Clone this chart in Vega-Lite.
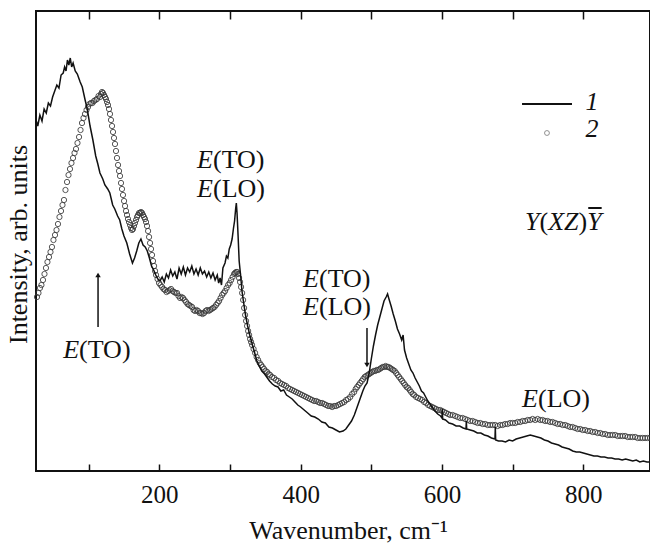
{
  "$schema": "https://vega.github.io/schema/vega-lite/v6.json",
  "width": 614,
  "height": 460,
  "autosize": {"type": "none"},
  "padding": {"left": 36, "top": 11, "right": 0, "bottom": 72},
  "background": "white",
  "config": {
    "font": "Liberation Serif",
    "view": {"stroke": "#111", "strokeWidth": 2},
    "axis": {"grid": false, "domain": false, "labelFont": "Liberation Serif", "titleFont": "Liberation Serif", "titleFontWeight": "normal", "labelColor": "#111", "titleColor": "#111", "tickColor": "#111"}
  },
  "datasets": {
    "s1": [
      {"x":25.5,"y":351},{"x":28,"y":345},{"x":31,"y":356},{"x":34,"y":350},{"x":37,"y":362},{"x":40,"y":358},{"x":43,"y":368},{"x":46,"y":365},{"x":49,"y":374},{"x":52,"y":380},{"x":55,"y":386},{"x":58,"y":383},{"x":61,"y":396},{"x":64,"y":398},{"x":66,"y":404},{"x":68,"y":400},{"x":70,"y":411},{"x":72,"y":406},{"x":74,"y":413},{"x":76,"y":404},{"x":78,"y":408},{"x":81,"y":400},{"x":84,"y":397},{"x":88,"y":389},{"x":91,"y":384},{"x":95,"y":371},{"x":98,"y":362},{"x":102,"y":345},{"x":106,"y":331},{"x":110,"y":315},{"x":113,"y":307},{"x":116,"y":298},{"x":120,"y":292},{"x":123,"y":286},{"x":127,"y":282},{"x":130,"y":278},{"x":134,"y":266},{"x":137,"y":262},{"x":141,"y":255},{"x":144,"y":251},{"x":147,"y":242},{"x":150,"y":235},{"x":154,"y":228},{"x":158,"y":217},{"x":162,"y":208},{"x":165,"y":213},{"x":168,"y":220},{"x":171,"y":228},{"x":174,"y":232},{"x":177,"y":226},{"x":180,"y":224},{"x":183,"y":220},{"x":186,"y":213},{"x":189,"y":205},{"x":192,"y":201},{"x":195,"y":196},{"x":198,"y":192},{"x":201,"y":190},{"x":204,"y":194},{"x":207,"y":189},{"x":210,"y":197},{"x":213,"y":193},{"x":216,"y":201},{"x":219,"y":195},{"x":222,"y":199},{"x":225,"y":192},{"x":228,"y":203},{"x":231,"y":197},{"x":234,"y":204},{"x":237,"y":196},{"x":240,"y":203},{"x":243,"y":199},{"x":246,"y":205},{"x":249,"y":197},{"x":252,"y":202},{"x":255,"y":196},{"x":258,"y":203},{"x":261,"y":197},{"x":264,"y":200},{"x":267,"y":194},{"x":270,"y":199},{"x":273,"y":193},{"x":276,"y":198},{"x":279,"y":191},{"x":282,"y":196},{"x":284,"y":188},{"x":286,"y":193},{"x":288,"y":186},{"x":290,"y":203},{"x":293,"y":208},{"x":295,"y":215},{"x":297,"y":213},{"x":299,"y":222},{"x":301,"y":226},{"x":303,"y":232},{"x":305,"y":243},{"x":306.5,"y":250},{"x":308,"y":262},{"x":309,"y":268},{"x":310,"y":258},{"x":311.5,"y":235},{"x":313,"y":210},{"x":315,"y":196},{"x":317,"y":180},{"x":319,"y":170},{"x":322,"y":156},{"x":325,"y":145},{"x":328,"y":136},{"x":331,"y":128},{"x":335,"y":118},{"x":338,"y":110},{"x":342,"y":104},{"x":345,"y":100},{"x":349,"y":97},{"x":352,"y":94},{"x":356,"y":90},{"x":360,"y":87},{"x":364,"y":85},{"x":368,"y":84},{"x":372,"y":80},{"x":376,"y":81},{"x":380,"y":76},{"x":384,"y":74},{"x":388,"y":72},{"x":392,"y":69},{"x":396,"y":66},{"x":400,"y":64},{"x":405,"y":61},{"x":410,"y":58},{"x":415,"y":55},{"x":420,"y":54},{"x":425,"y":52},{"x":430,"y":49},{"x":435,"y":48},{"x":440,"y":44},{"x":445,"y":43},{"x":450,"y":41},{"x":455,"y":39},{"x":460,"y":40},{"x":464,"y":42},{"x":468,"y":46},{"x":472,"y":50},{"x":476,"y":56},{"x":480,"y":64},{"x":484,"y":72},{"x":488,"y":80},{"x":491,"y":85},{"x":494,"y":88},{"x":497,"y":98},{"x":500,"y":112},{"x":503,"y":125},{"x":506,"y":136},{"x":509,"y":146},{"x":512,"y":154},{"x":515,"y":162},{"x":518,"y":170},{"x":521,"y":174},{"x":523,"y":177},{"x":525,"y":172},{"x":528,"y":165},{"x":531,"y":157},{"x":534,"y":150},{"x":537,"y":142},{"x":540,"y":137},{"x":543,"y":131},{"x":545,"y":136},{"x":547,"y":121},{"x":550,"y":113},{"x":553,"y":107},{"x":556,"y":101},{"x":559,"y":98},{"x":562,"y":93},{"x":565,"y":89},{"x":568,"y":85},{"x":571,"y":80},{"x":574,"y":78},{"x":577,"y":74},{"x":580,"y":70},{"x":583,"y":67},{"x":586,"y":64},{"x":590,"y":60},{"x":594,"y":57},{"x":598,"y":55},{"x":600,"y":53},{"x":600.5,"y":62},{"x":601,"y":52},{"x":605,"y":51},{"x":610,"y":48},{"x":615,"y":47},{"x":620,"y":45},{"x":625,"y":45},{"x":630,"y":43},{"x":634,"y":42},{"x":634.5,"y":50},{"x":635,"y":42},{"x":640,"y":41},{"x":645,"y":40},{"x":650,"y":38},{"x":655,"y":38},{"x":660,"y":36},{"x":665,"y":35},{"x":670,"y":33},{"x":675,"y":32},{"x":675.5,"y":44},{"x":676,"y":31},{"x":680,"y":30},{"x":685,"y":30},{"x":690,"y":29},{"x":695,"y":31},{"x":700,"y":30},{"x":705,"y":32},{"x":710,"y":33},{"x":715,"y":34},{"x":720,"y":35},{"x":725,"y":36},{"x":730,"y":35},{"x":735,"y":34},{"x":740,"y":33},{"x":745,"y":31},{"x":750,"y":30},{"x":755,"y":28},{"x":760,"y":27},{"x":765,"y":26},{"x":770,"y":24},{"x":775,"y":23},{"x":780,"y":22},{"x":785,"y":20},{"x":790,"y":19},{"x":795,"y":19},{"x":800,"y":18},{"x":805,"y":17},{"x":810,"y":16},{"x":815,"y":15},{"x":820,"y":15},{"x":825,"y":14},{"x":830,"y":14},{"x":835,"y":13},{"x":840,"y":13},{"x":845,"y":12},{"x":850,"y":12},{"x":855,"y":11},{"x":860,"y":12},{"x":865,"y":11},{"x":870,"y":10},{"x":875,"y":11},{"x":880,"y":9},{"x":885,"y":10},{"x":890,"y":9},{"x":894,"y":9}
    ],
    "s2": [
      {"x":26.9,"y":174},{"x":29,"y":178},{"x":31.1,"y":183},{"x":33.2,"y":186},{"x":35.4,"y":191},{"x":37.5,"y":197},{"x":39.6,"y":203},{"x":41.7,"y":209},{"x":43.9,"y":214},{"x":46,"y":219},{"x":48.1,"y":224},{"x":50.2,"y":231},{"x":52.4,"y":236},{"x":54.5,"y":241},{"x":56.6,"y":247},{"x":58.7,"y":254},{"x":60.9,"y":260},{"x":63,"y":266},{"x":65.1,"y":271},{"x":67.2,"y":281},{"x":69.4,"y":289},{"x":71.5,"y":296},{"x":73.6,"y":302},{"x":75.7,"y":308},{"x":77.9,"y":313},{"x":80,"y":318},{"x":82.1,"y":322},{"x":84.2,"y":328},{"x":86.4,"y":334},{"x":88.5,"y":341},{"x":90.6,"y":348},{"x":92.7,"y":353},{"x":94.8,"y":357},{"x":97,"y":361},{"x":99.1,"y":364},{"x":101.2,"y":367},{"x":103.3,"y":368},{"x":105.4,"y":368},{"x":107.6,"y":370},{"x":109.7,"y":371},{"x":111.8,"y":372},{"x":114,"y":375},{"x":116.1,"y":374},{"x":117.5,"y":377},{"x":118.9,"y":379},{"x":120.3,"y":378},{"x":121.8,"y":376},{"x":123.2,"y":374},{"x":124.6,"y":372},{"x":126,"y":369},{"x":127.4,"y":366},{"x":128.8,"y":362},{"x":130.2,"y":357},{"x":131.6,"y":351},{"x":133.1,"y":345},{"x":134.5,"y":339},{"x":135.9,"y":333},{"x":137.3,"y":327},{"x":138.7,"y":320},{"x":140.1,"y":313},{"x":141.6,"y":306},{"x":143,"y":300},{"x":144.4,"y":295},{"x":145.8,"y":288},{"x":147.2,"y":282},{"x":148.6,"y":276},{"x":150.1,"y":270},{"x":151.5,"y":265},{"x":152.9,"y":260},{"x":154.3,"y":256},{"x":155.7,"y":252},{"x":157.1,"y":249},{"x":158.6,"y":246},{"x":160,"y":243},{"x":161.4,"y":241},{"x":162.8,"y":242},{"x":164.2,"y":245},{"x":165.6,"y":248},{"x":167.1,"y":251},{"x":168.5,"y":254},{"x":169.9,"y":256},{"x":171.3,"y":258},{"x":172.7,"y":258},{"x":174.1,"y":259},{"x":175.6,"y":258},{"x":177,"y":256},{"x":178.4,"y":254},{"x":179.8,"y":252},{"x":181.2,"y":249},{"x":182.6,"y":245},{"x":184.1,"y":240},{"x":185.5,"y":234},{"x":186.9,"y":228},{"x":188.3,"y":222},{"x":189.7,"y":216},{"x":191.1,"y":210},{"x":192.6,"y":205},{"x":194,"y":200},{"x":195.4,"y":196},{"x":197.5,"y":192},{"x":199.6,"y":188},{"x":201.7,"y":186},{"x":203.9,"y":184},{"x":206,"y":182},{"x":208.1,"y":181},{"x":210.2,"y":179},{"x":212.4,"y":180},{"x":214.5,"y":181},{"x":216.6,"y":182},{"x":218.7,"y":180},{"x":220.9,"y":179},{"x":223,"y":178},{"x":225.1,"y":178},{"x":227.2,"y":175},{"x":229.4,"y":173},{"x":231.5,"y":174},{"x":233.6,"y":173},{"x":235.7,"y":171},{"x":237.9,"y":169},{"x":240,"y":167},{"x":242.1,"y":166},{"x":244.2,"y":165},{"x":246.4,"y":164},{"x":248.5,"y":161},{"x":250.6,"y":160},{"x":252.7,"y":161},{"x":254.9,"y":160},{"x":257,"y":158},{"x":259.1,"y":158},{"x":261.2,"y":157},{"x":263.4,"y":158},{"x":265.5,"y":160},{"x":267.6,"y":161},{"x":269.7,"y":160},{"x":271.9,"y":161},{"x":274,"y":162},{"x":276.1,"y":163},{"x":278.2,"y":164},{"x":280.4,"y":166},{"x":282.5,"y":168},{"x":284.6,"y":170},{"x":286.7,"y":173},{"x":288.9,"y":176},{"x":291,"y":178},{"x":293.1,"y":180},{"x":295.2,"y":183},{"x":297.4,"y":186},{"x":299.5,"y":188},{"x":301.6,"y":191},{"x":303.7,"y":194},{"x":305.8,"y":197},{"x":307.2,"y":198},{"x":308.7,"y":199},{"x":310.1,"y":199},{"x":311.5,"y":197},{"x":312.9,"y":193},{"x":314.3,"y":189},{"x":315.7,"y":184},{"x":317.2,"y":178},{"x":318.6,"y":171},{"x":320,"y":163},{"x":321.4,"y":156},{"x":322.8,"y":150},{"x":324.2,"y":145},{"x":325.7,"y":140},{"x":327.1,"y":136},{"x":328.5,"y":132},{"x":329.9,"y":129},{"x":331.3,"y":126},{"x":333.4,"y":122},{"x":335.6,"y":118},{"x":337.7,"y":114},{"x":339.8,"y":111},{"x":342,"y":108},{"x":344.1,"y":106},{"x":346.2,"y":104},{"x":348.3,"y":102},{"x":350.4,"y":100},{"x":352.6,"y":99},{"x":354.7,"y":97},{"x":356.8,"y":96},{"x":359.6,"y":94},{"x":362.5,"y":93},{"x":365.3,"y":91},{"x":368.2,"y":90},{"x":371,"y":88},{"x":373.8,"y":87},{"x":376.6,"y":86},{"x":379.5,"y":85},{"x":382.3,"y":83},{"x":385.1,"y":82},{"x":388,"y":81},{"x":390.8,"y":80},{"x":393.6,"y":79},{"x":396.5,"y":78},{"x":399.3,"y":77},{"x":402.1,"y":76},{"x":405,"y":75},{"x":407.8,"y":74},{"x":410.6,"y":73},{"x":413.4,"y":72},{"x":416.3,"y":71},{"x":419.1,"y":70},{"x":422,"y":70},{"x":424.8,"y":69},{"x":427.6,"y":68},{"x":430.4,"y":68},{"x":433.3,"y":67},{"x":436.1,"y":66},{"x":438.9,"y":65},{"x":441.7,"y":65},{"x":444.6,"y":64},{"x":447.4,"y":65},{"x":450.2,"y":65},{"x":453.1,"y":66},{"x":455.9,"y":67},{"x":458.7,"y":68},{"x":461.6,"y":69},{"x":464.4,"y":71},{"x":467.2,"y":72},{"x":470.1,"y":74},{"x":472.9,"y":77},{"x":475.7,"y":79},{"x":477.9,"y":82},{"x":480,"y":84},{"x":482.1,"y":86},{"x":484.2,"y":88},{"x":486.4,"y":90},{"x":488.5,"y":92},{"x":490.6,"y":94},{"x":492.7,"y":95},{"x":494.9,"y":96},{"x":497,"y":97},{"x":499.1,"y":98},{"x":501.2,"y":99},{"x":503.4,"y":100},{"x":505.5,"y":100},{"x":507.6,"y":101},{"x":509.7,"y":101},{"x":511.9,"y":102},{"x":514,"y":103},{"x":516.1,"y":104},{"x":518.2,"y":104},{"x":520.3,"y":105},{"x":522.4,"y":104},{"x":524.6,"y":104},{"x":526.7,"y":103},{"x":528.8,"y":102},{"x":530.9,"y":101},{"x":533.1,"y":100},{"x":535.2,"y":98},{"x":537.3,"y":96},{"x":539.4,"y":94},{"x":541.6,"y":92},{"x":543.7,"y":90},{"x":545.8,"y":88},{"x":547.9,"y":86},{"x":550,"y":84},{"x":552.2,"y":83},{"x":554.3,"y":81},{"x":556.4,"y":79},{"x":558.6,"y":77},{"x":560.7,"y":76},{"x":563.5,"y":74},{"x":566.3,"y":73},{"x":569.2,"y":72},{"x":572,"y":71},{"x":574.8,"y":69},{"x":577.7,"y":68},{"x":580.5,"y":66},{"x":583.3,"y":65},{"x":586.2,"y":64},{"x":589,"y":63},{"x":591.8,"y":62},{"x":594.6,"y":61},{"x":597.5,"y":61},{"x":600.3,"y":60},{"x":603.1,"y":59},{"x":605.9,"y":58},{"x":608.8,"y":57},{"x":611.6,"y":56},{"x":615.2,"y":56},{"x":618.7,"y":55},{"x":622.2,"y":54},{"x":625.8,"y":53},{"x":629.3,"y":53},{"x":632.8,"y":52},{"x":636.4,"y":51},{"x":639.9,"y":50},{"x":643.5,"y":50},{"x":647,"y":49},{"x":650.5,"y":48},{"x":654.1,"y":48},{"x":657.6,"y":47},{"x":661.1,"y":47},{"x":664.7,"y":46},{"x":668.2,"y":46},{"x":671.8,"y":46},{"x":675.3,"y":46},{"x":678.8,"y":45},{"x":682.4,"y":46},{"x":685.9,"y":46},{"x":689.4,"y":47},{"x":693,"y":47},{"x":696.5,"y":48},{"x":700,"y":48},{"x":703.6,"y":48},{"x":707.1,"y":49},{"x":710.7,"y":49},{"x":714.2,"y":50},{"x":717.7,"y":50},{"x":721.3,"y":51},{"x":724.8,"y":51},{"x":728.3,"y":52},{"x":731.9,"y":51},{"x":735.4,"y":52},{"x":739,"y":51},{"x":742.5,"y":51},{"x":746,"y":50},{"x":749.6,"y":50},{"x":753.1,"y":49},{"x":756.6,"y":49},{"x":760.2,"y":48},{"x":763.7,"y":47},{"x":767.3,"y":47},{"x":770.8,"y":46},{"x":774.3,"y":46},{"x":777.9,"y":45},{"x":781.4,"y":44},{"x":784.9,"y":44},{"x":788.5,"y":43},{"x":792,"y":42},{"x":795.6,"y":42},{"x":799.1,"y":41},{"x":802.6,"y":41},{"x":806.2,"y":40},{"x":809.7,"y":40},{"x":813.2,"y":39},{"x":816.8,"y":39},{"x":820.3,"y":38},{"x":823.9,"y":38},{"x":827.4,"y":37},{"x":830.9,"y":37},{"x":834.5,"y":36},{"x":838,"y":36},{"x":841.5,"y":36},{"x":845.1,"y":36},{"x":848.6,"y":35},{"x":852.2,"y":35},{"x":855.7,"y":35},{"x":859.2,"y":35},{"x":862.8,"y":34},{"x":866.3,"y":34},{"x":869.8,"y":34},{"x":873.4,"y":34},{"x":876.9,"y":33},{"x":880.5,"y":33},{"x":884,"y":33},{"x":887.5,"y":33},{"x":891.1,"y":33},{"x":894.6,"y":33}
    ],
    "eItalic": [
      {"x":276,"y":303,"t":"E"},{"x":276,"y":274,"t":"E"},{"x":86.4,"y":113,"t":"E"},{"x":426,"y":184,"t":"E"},{"x":426,"y":156,"t":"E"},{"x":735.9,"y":64,"t":"E"}
    ],
    "uprightLeft": [
      {"x":276,"y":303,"t":"(TO)"},{"x":276,"y":274,"t":"(LO)"},{"x":86.4,"y":113,"t":"(TO)"},{"x":426,"y":184,"t":"(TO)"},{"x":426,"y":156,"t":"(LO)"},{"x":735.9,"y":64,"t":"(LO)"},
      {"x":738.0,"y":241,"t":"("},{"x":793.2,"y":241,"t":")"}
    ],
    "italicLeft": [
      {"x":717.5,"y":241,"t":"Y"},{"x":750.3,"y":241,"t":"XZ"},{"x":805.5,"y":241,"t":"Y"}
    ],
    "italicCenter": [
      {"x":812.3,"y":361,"t":"1"},{"x":812.3,"y":334,"t":"2"}
    ],
    "hrules": [
      {"x":713.3,"x2":784,"y":367},{"x":807,"x2":826,"y":263}
    ],
    "arrows": [
      {"x":113.3,"y":144,"y2":194},{"x":493.9,"y":143,"y2":108}
    ],
    "heads": [
      {"x":113.3,"y":196,"shape":"triangle-up"},{"x":493.9,"y":106,"shape":"triangle-down"}
    ],
    "legendPoint": [{"x":748.6,"y":338}]
  },
  "resolve": {"axis": {"x": "independent"}},
  "layer": [
    {
      "data": {"name": "s2"},
      "mark": {"type": "point", "shape": "circle", "filled": false, "stroke": "#3a3a3a", "strokeWidth": 0.85, "size": 28, "opacity": 1},
      "encoding": {
        "x": {"field": "x", "type": "quantitative", "scale": {"domain": [25.5, 894.4], "nice": false, "zero": false},
          "axis": {"orient": "top", "values": [100,200,300,400,500,600,700,800], "labels": false, "tickSize": -8, "tickWidth": 1.5, "title": null}},
        "y": {"field": "y", "type": "quantitative", "scale": {"domain": [0, 460], "nice": false, "zero": false},
          "axis": {"labels": false, "ticks": false, "title": "Intensity, arb. units", "titleFontSize": 26, "titleAngle": -90, "titleX": -18, "titleY": 233, "titleAlign": "center", "titleBaseline": "middle"}}
      }
    },
    {
      "data": {"name": "s1"},
      "mark": {"type": "line", "color": "#111", "strokeWidth": 1.5},
      "encoding": {
        "x": {"field": "x", "type": "quantitative",
          "axis": {"orient": "bottom", "values": [100,200,300,400,500,600,700,800], "labelExpr": "datum.value % 200 == 0 ? datum.label : ''", "tickSize": -7, "tickWidth": 1.5, "labelPadding": 18, "labelFontSize": 25, "labelBaseline": "top", "title": "Wavenumber, cm⁻¹", "titleFontSize": 26, "titleBaseline": "alphabetic", "titleY": 67, "titleX": 312, "titleAlign": "center", "format": "d"}},
        "y": {"field": "y", "type": "quantitative"}
      }
    },
    {
      "data": {"name": "arrows"},
      "mark": {"type": "rule", "color": "#111", "strokeWidth": 1.5},
      "encoding": {
        "x": {"field": "x", "type": "quantitative", "axis": null},
        "y": {"field": "y", "type": "quantitative"},
        "y2": {"field": "y2"}
      }
    },
    {
      "data": {"name": "heads"},
      "mark": {"type": "point", "filled": true, "color": "#111", "size": 30, "opacity": 1},
      "encoding": {
        "x": {"field": "x", "type": "quantitative", "axis": null},
        "y": {"field": "y", "type": "quantitative"},
        "shape": {"field": "shape", "type": "nominal", "scale": null, "legend": null}
      }
    },
    {
      "data": {"name": "hrules"},
      "mark": {"type": "rule", "color": "#111", "strokeWidth": 2},
      "encoding": {
        "x": {"field": "x", "type": "quantitative", "axis": null},
        "x2": {"field": "x2"},
        "y": {"field": "y", "type": "quantitative"}
      }
    },
    {
      "data": {"name": "legendPoint"},
      "mark": {"type": "point", "shape": "circle", "filled": false, "stroke": "#777", "strokeWidth": 0.8, "size": 24, "opacity": 1},
      "encoding": {
        "x": {"field": "x", "type": "quantitative", "axis": null},
        "y": {"field": "y", "type": "quantitative"}
      }
    },
    {
      "data": {"name": "eItalic"},
      "mark": {"type": "text", "font": "Liberation Serif", "fontStyle": "italic", "fontSize": 26, "align": "right", "baseline": "alphabetic", "color": "#111"},
      "encoding": {
        "x": {"field": "x", "type": "quantitative", "axis": null},
        "y": {"field": "y", "type": "quantitative"},
        "text": {"field": "t"}
      }
    },
    {
      "data": {"name": "uprightLeft"},
      "mark": {"type": "text", "font": "Liberation Serif", "fontSize": 26, "align": "left", "baseline": "alphabetic", "color": "#111"},
      "encoding": {
        "x": {"field": "x", "type": "quantitative", "axis": null},
        "y": {"field": "y", "type": "quantitative"},
        "text": {"field": "t"}
      }
    },
    {
      "data": {"name": "italicLeft"},
      "mark": {"type": "text", "font": "Liberation Serif", "fontStyle": "italic", "fontSize": 26, "align": "left", "baseline": "alphabetic", "color": "#111"},
      "encoding": {
        "x": {"field": "x", "type": "quantitative", "axis": null},
        "y": {"field": "y", "type": "quantitative"},
        "text": {"field": "t"}
      }
    },
    {
      "data": {"name": "italicCenter"},
      "mark": {"type": "text", "font": "Liberation Serif", "fontStyle": "italic", "fontSize": 26, "align": "center", "baseline": "alphabetic", "color": "#111"},
      "encoding": {
        "x": {"field": "x", "type": "quantitative", "axis": null},
        "y": {"field": "y", "type": "quantitative"},
        "text": {"field": "t"}
      }
    }
  ]
}
